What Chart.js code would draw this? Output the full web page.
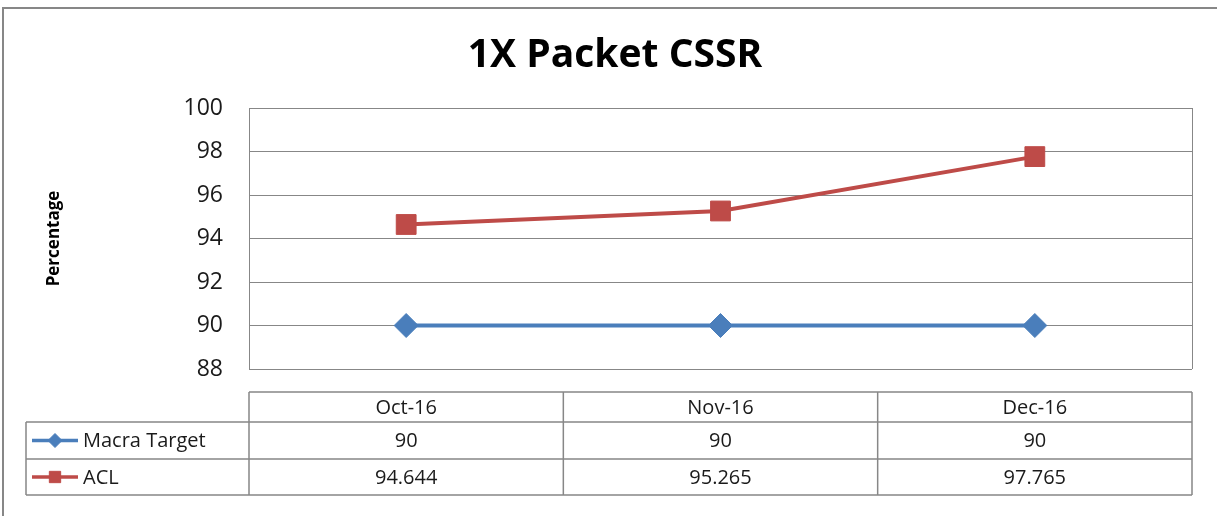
<!DOCTYPE html>
<html>
<head>
<meta charset="utf-8">
<title>1X Packet CSSR</title>
<script src="https://cdn.jsdelivr.net/npm/chart.js@4/dist/chart.umd.min.js"></script>
<style>
  html, body { margin: 0; padding: 0; background: #fff; overflow: hidden; }
  #wrap { position: relative; width: 1217px; height: 516px; }
  #chart { position: absolute; left: 0; top: 0; }
  /* outer chart frame, only top and left edges are in view */
  #frame {
    position: absolute; left: 2px; top: 7px; width: 1400px; height: 700px;
    border-left: 2px solid #878787; border-top: 2px solid #878787;
    pointer-events: none;
  }
</style>
</head>
<body>
<div id="wrap">
  <canvas id="chart" width="1217" height="516"></canvas>
  <div id="frame"></div>
</div>
<script>
// chart data
const months = ['Oct-16', 'Nov-16', 'Dec-16'];
const macraTarget = [90, 90, 90];
const acl = [94.644, 95.265, 97.765];
const seriesNames = ['Macra Target', 'ACL'];
const yMin = 88;
const yMax = 100;
const yStep = 2;

const FONT = '"Open Sans", "Liberation Sans", sans-serif';
const BLUE = '#4A7EBB';
const RED = '#BE4B48';
const GRID = '#878787';

/* plot frame: right edge (left/top/bottom come from the axes) */
const plotFrame = {
  id: 'plotFrame',
  afterDatasetsDraw(chart) {
    const { ctx, chartArea } = chart;
    ctx.save();
    ctx.strokeStyle = GRID;
    ctx.lineWidth = 1;
    ctx.beginPath();
    ctx.moveTo(Math.round(chartArea.right) + 0.5, chartArea.top);
    ctx.lineTo(Math.round(chartArea.right) + 0.5, chartArea.bottom);
    ctx.stroke();
    ctx.restore();
  }
};

/* Excel style data table under the plot, columns follow the x scale */
const dataTable = {
  id: 'dataTable',
  afterDraw(chart) {
    const { ctx, chartArea, scales: { x } } = chart;
    const colW = (chartArea.right - chartArea.left) / months.length;
    const rowY = [392, 422, 459, 495];
    const legendLeft = 26;
    const rows = [macraTarget, acl];
    const colors = [BLUE, RED];
    const styles = ['rectRot', 'rect'];
    const radii = [7, 8];

    ctx.save();
    ctx.strokeStyle = GRID;
    ctx.lineWidth = 1.5;

    // horizontal lines
    ctx.beginPath();
    ctx.moveTo(chartArea.left, rowY[0]);
    ctx.lineTo(chartArea.right, rowY[0]);
    for (let r = 1; r < rowY.length; r++) {
      ctx.moveTo(legendLeft, rowY[r]);
      ctx.lineTo(chartArea.right, rowY[r]);
    }
    // vertical lines
    ctx.moveTo(legendLeft, rowY[1]);
    ctx.lineTo(legendLeft, rowY[3]);
    for (let i = 0; i <= months.length; i++) {
      const xx = x.getPixelForValue(0) - colW / 2 + i * colW;
      ctx.moveTo(xx, rowY[0]);
      ctx.lineTo(xx, rowY[3]);
    }
    ctx.stroke();

    // header + values
    ctx.fillStyle = '#1a1a1a';
    ctx.font = '20px ' + FONT;
    ctx.textAlign = 'center';
    ctx.textBaseline = 'middle';
    months.forEach((m, i) => {
      const cx = x.getPixelForValue(i);
      ctx.fillText(m, cx, (rowY[0] + rowY[1]) / 2 + 1);
      rows.forEach((vals, r) => {
        ctx.fillText(String(vals[i]), cx, (rowY[r + 1] + rowY[r + 2]) / 2 + 1);
      });
    });

    // legend keys
    rows.forEach((vals, r) => {
      const cy = (rowY[r + 1] + rowY[r + 2]) / 2;
      ctx.strokeStyle = colors[r];
      ctx.fillStyle = colors[r];
      ctx.lineWidth = 3.5;
      ctx.beginPath();
      ctx.moveTo(32, cy);
      ctx.lineTo(78, cy);
      ctx.stroke();
      ctx.lineWidth = 1;
      Chart.helpers.drawPoint(ctx, { pointStyle: styles[r], radius: radii[r], borderWidth: 1 }, 55, cy);
      ctx.fillStyle = '#1a1a1a';
      ctx.textAlign = 'left';
      ctx.fillText(seriesNames[r], 83, cy + 1);
    });
    ctx.restore();
  }
};

new Chart(document.getElementById('chart'), {
  type: 'line',
  data: {
    labels: months,
    datasets: [
      {
        label: seriesNames[0],
        data: macraTarget,
        borderColor: BLUE,
        backgroundColor: BLUE,
        borderWidth: 4,
        pointStyle: 'rectRot',
        pointRadius: 12,
        pointBorderWidth: 1
      },
      {
        label: seriesNames[1],
        data: acl,
        borderColor: RED,
        backgroundColor: RED,
        borderWidth: 4,
        pointStyle: 'rect',
        pointRadius: 14,
        pointBorderWidth: 1
      }
    ]
  },
  options: {
    responsive: false,
    animation: false,
    layout: { padding: { left: 38, right: 25, top: 0, bottom: 147 } },
    plugins: {
      legend: { display: false },
      tooltip: { enabled: false },
      title: {
        display: true,
        text: '1X Packet CSSR',
        color: '#000',
        font: { family: FONT, size: 39, weight: 'bold' },
        padding: { top: 32, bottom: 29.2 }
      }
    },
    scales: {
      x: {
        type: 'category',
        offset: true,
        display: false
      },
      y: {
        min: yMin,
        max: yMax,
        afterFit(scale) { scale.width = 211; },
        ticks: {
          stepSize: yStep,
          padding: 26,
          color: '#1a1a1a',
          font: { family: FONT, size: 23 }
        },
        grid: { color: GRID, lineWidth: 1, drawTicks: false },
        border: { display: true, color: GRID, width: 1 },
        title: {
          display: true,
          text: 'Percentage',
          color: '#000',
          font: { family: FONT, size: 17, weight: 'bold' },
          padding: { top: 6, bottom: 0 }
        }
      }
    }
  },
  plugins: [plotFrame, dataTable]
});
</script>
</body>
</html>
